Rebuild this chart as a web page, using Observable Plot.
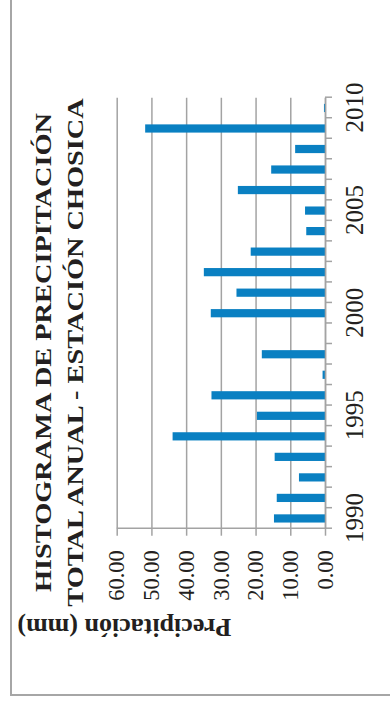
<!DOCTYPE html>
<html>
<head>
<meta charset="utf-8">
<script src="https://cdn.jsdelivr.net/npm/d3@7"></script>
<script src="https://cdn.jsdelivr.net/npm/@observablehq/plot@0.6"></script>
<style>
  html, body { margin: 0; padding: 0; background: #fff; overflow: hidden; width: 390px; height: 705px; }
  /* The whole figure is laid out landscape and turned a quarter turn counter-clockwise */
  #page {
    position: absolute; left: 0; top: 0;
    width: 705px; height: 390px;
    transform-origin: 0 0;
    transform: translate(0px, 705px) rotate(-90deg);
  }
  #frame {
    position: absolute; left: 9px; top: 10px; width: 800px; height: 500px;
    border: 2px solid #a6a6a6; box-sizing: border-box;
  }
  #title {
    position: absolute; left: 0; top: 27px; width: 705px;
    text-align: center;
    font-family: "Liberation Serif", "Times New Roman", serif;
    font-weight: bold; font-size: 24px; line-height: 32px; color: #231f20;
    transform: scaleX(1.18); transform-origin: 352.5px 0;
    white-space: nowrap;
  }
  #chart { position: absolute; left: 0; top: 0; }
</style>
</head>
<body>
<div id="page">
  <div id="frame"></div>
  <div id="title">HISTOGRAMA DE PRECIPITACIÓN<br>TOTAL ANUAL - ESTACIÓN CHOSICA</div>
  <div id="chart"></div>
</div>
<script>
// Annual total precipitation, Chosica station
const years = [1990, 1991, 1992, 1993, 1994, 1995, 1996, 1997, 1998, 1999, 2000,
               2001, 2002, 2003, 2004, 2005, 2006, 2007, 2008, 2009, 2010];
const precipitation = [14.7, 13.9, 7.5, 14.5, 43.9, 19.6, 32.7, 0.7, 18.2, 0, 32.9,
                       25.5, 34.9, 21.4, 5.4, 5.75, 25.1, 15.5, 8.6, 51.8, 0.3];
const yearLabels = [1990, 1995, 2000, 2005, 2010];
const valueTicks = [0, 10, 20, 30, 40, 50, 60];
const valueLabel = "Precipitación (mm)";

const data = years.map((year, i) => ({year, value: precipitation[i]}));
// category boundaries between consecutive years
const boundaries = d3.range(years[0] - 0.5, years[years.length - 1] + 1, 1);

const gray = "#a3a3a3";
const ink = "#231f20";

const chart = Plot.plot({
  width: 705,
  height: 390,
  marginLeft: 176.3,
  marginRight: 97.7,
  marginTop: 116.7,
  marginBottom: 65,
  x: {domain: [years[0] - 0.5, years[years.length - 1] + 0.5]},
  y: {domain: [0, 60]},
  style: {fontFamily: "'Liberation Serif', 'Times New Roman', serif", color: ink, background: "transparent", overflow: "visible"},
  marks: [
    Plot.gridY({ticks: valueTicks, stroke: gray, strokeOpacity: 1, strokeWidth: 1.5}),
    Plot.rectY(data, {x1: d => d.year - 0.2, x2: d => d.year + 0.2, y1: 0, y2: "value", fill: "#0a80c2"}),
    Plot.ruleX([boundaries[0]], {stroke: gray, strokeWidth: 1.5}),
    Plot.ruleY([0], {stroke: gray, strokeWidth: 1.5}),
    Plot.axisX({ticks: boundaries, tickFormat: () => "", tickSize: 7, stroke: gray, strokeWidth: 1.5, label: null}),
    Plot.axisX({ticks: yearLabels, tickFormat: d => String(d), tickSize: 0, tickPadding: 20, fontSize: 25, fill: ink, label: null}),
    Plot.axisY({ticks: valueTicks, tickFormat: d => d.toFixed(2), tickSize: 7, tickPadding: 15, fontSize: 22.5, stroke: gray, strokeWidth: 1.5, fill: ink, label: null}),
    Plot.text([valueLabel], {frameAnchor: "left", text: d => d, rotate: -90, dx: -99.3, dy: 10, fontWeight: "bold", fontSize: 26, fill: ink})
  ]
});
document.getElementById("chart").appendChild(chart);
</script>
</body>
</html>
